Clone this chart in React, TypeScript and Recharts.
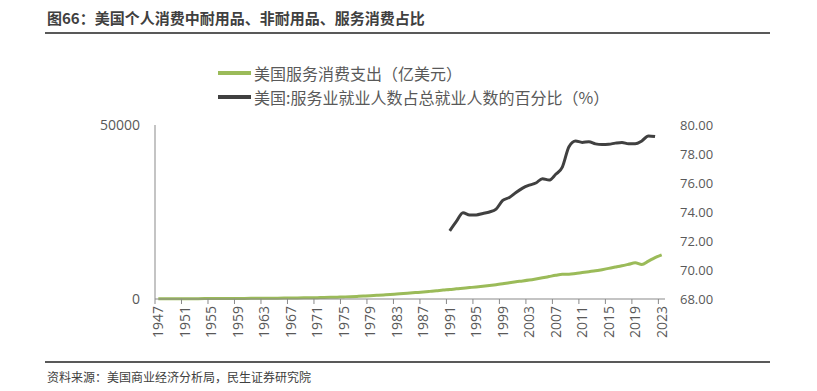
import { Line, LineChart, XAxis, YAxis } from "recharts";

// categories: 1947 .. 2023
const years: number[] = Array.from({ length: 2023 - 1947 + 1 }, (_, i) => 1947 + i);

// 美国服务消费支出（亿美元）
const servicesSpend = [
  67, 73, 77, 83, 90, 97, 105, 112, 120, 129,
  139, 148, 161, 172, 182, 195, 207, 223, 240, 258,
  277, 301, 330, 360, 394, 434, 477, 531, 596, 665,
  748, 838, 933, 1053, 1177, 1300, 1445, 1580, 1732, 1868,
  2013, 2190, 2370, 2570, 2720, 2930, 3100, 3280, 3460, 3660,
  3880, 4120, 4380, 4700, 4970, 5190, 5440, 5750, 6090, 6450,
  6810, 7100, 7120, 7340, 7610, 7860, 8090, 8430, 8800, 9170,
  9550, 9970, 10400, 9900, 10900, 11900, 12700,
];

// 美国:服务业就业人数占总就业人数的百分比（%），1991 - 2022
const serviceEmpShareFrom1991 = [
  72.7, 73.35, 73.95, 73.8, 73.8, 73.9, 74.0, 74.2, 74.8, 75.0,
  75.35, 75.65, 75.85, 76.0, 76.3, 76.2, 76.6, 77.1, 78.5, 78.9,
  78.8, 78.85, 78.7, 78.65, 78.67, 78.75, 78.8, 78.7, 78.7, 78.9,
  79.25, 79.2,
];

const xLabelYears = [
  1947, 1951, 1955, 1959, 1963, 1967, 1971, 1975, 1979, 1983,
  1987, 1991, 1995, 1999, 2003, 2007, 2011, 2015, 2019, 2023,
];
const leftTicks = [0, 50000];
const rightTicks = [68, 70, 72, 74, 76, 78, 80];

const data = years.map((year, i) => ({
  year,
  services: servicesSpend[i],
  share: year >= 1991 && year - 1991 < serviceEmpShareFrom1991.length
    ? serviceEmpShareFrom1991[year - 1991]
    : null,
}));

const W = 817;
const H = 391;
const PLOT_LEFT = 155;
const PLOT_RIGHT = 665;
const HALF_BAND = (PLOT_RIGHT - PLOT_LEFT) / years.length / 2;

const GREEN = "#9bbb59";
const DARK = "#404040";
const AXIS = "#898989";
const LABEL = "#595959";
const CJK = '"Noto Sans CJK SC", "Noto Sans", sans-serif';
const NUM = '"Open Sans", "Noto Sans", sans-serif';

// tick lines sit on category boundaries, labels on category centres
function YearTick(props: any) {
  const { x, y, payload } = props;
  const year = payload.value + 0.5;
  if (year > 2023) return null;
  return (
    <g transform={`translate(${x + HALF_BAND},${y})`}>
      <text
        x={0}
        y={0}
        dy="0.35em"
        textAnchor="end"
        transform="rotate(-90)"
        fill={LABEL}
        fontSize={14}
        fontFamily={NUM}
      >
        {year}
      </text>
    </g>
  );
}

export default function App() {
  return (
    <div
      style={{
        position: "absolute",
        left: 0,
        top: 0,
        width: W,
        height: H,
        background: "#fff",
        fontFamily: CJK,
      }}
    >
      <div
        style={{
          position: "absolute",
          left: 47,
          top: 7,
          fontSize: 15,
          fontWeight: 700,
          color: "#404040",
          lineHeight: "22px",
        }}
      >
        图66：美国个人消费中耐用品、非耐用品、服务消费占比
      </div>
      <div style={{ position: "absolute", left: 45, top: 32, width: 725, height: 2, background: "#595959" }} />

      {/* legend */}
      {[
        { color: GREEN, label: "美国服务消费支出（亿美元）", top: 62 },
        { color: DARK, label: "美国:服务业就业人数占总就业人数的百分比（%）", top: 86 },
      ].map((item) => (
        <div
          key={item.label}
          style={{
            position: "absolute",
            left: 218,
            top: item.top,
            height: 22,
            display: "flex",
            alignItems: "center",
            fontSize: 16,
            color: LABEL,
            whiteSpace: "nowrap",
          }}
        >
          <span style={{ display: "inline-block", width: 33, height: 4, background: item.color, marginRight: 3 }} />
          {item.label}
        </div>
      ))}

      <div style={{ position: "absolute", left: 0, top: 0 }}>
        <LineChart
          width={W}
          height={H}
          data={data}
          margin={{ top: 125, right: 0, bottom: 52, left: 0 }}
        >
          <XAxis
            dataKey="year"
            type="number"
            domain={[1946.5, 2023.5]}
            ticks={xLabelYears.map((y) => y - 0.5)}
            interval={0}
            height={40}
            axisLine={{ stroke: AXIS }}
            tickLine={{ stroke: AXIS }}
            tickSize={5}
            tickMargin={2}
            tick={<YearTick />}
          />
          <YAxis
            yAxisId="left"
            domain={[0, 50000]}
            ticks={leftTicks}
            width={PLOT_LEFT}
            axisLine={{ stroke: AXIS }}
            tickLine={false}
            tickSize={0}
            tickMargin={15}
            tick={{ fill: LABEL, fontSize: 14, fontFamily: NUM }}
          />
          <YAxis
            yAxisId="right"
            orientation="right"
            domain={[68, 80]}
            ticks={rightTicks}
            width={W - PLOT_RIGHT}
            axisLine={false}
            tickLine={false}
            tickSize={0}
            tickMargin={15}
            tickFormatter={(v: number) => v.toFixed(2)}
            tick={{ fill: LABEL, fontSize: 13, fontFamily: NUM }}
          />
          <Line
            yAxisId="left"
            type="monotone"
            dataKey="services"
            stroke={GREEN}
            strokeWidth={3}
            dot={false}
            isAnimationActive={false}
          />
          <Line
            yAxisId="right"
            type="monotone"
            dataKey="share"
            stroke={DARK}
            strokeWidth={3}
            dot={false}
            connectNulls={false}
            isAnimationActive={false}
          />
        </LineChart>
      </div>

      <div style={{ position: "absolute", left: 45, top: 361, width: 725, height: 2, background: "#595959" }} />
      <div
        style={{
          position: "absolute",
          left: 47,
          top: 367,
          fontSize: 12,
          color: "#404040",
          lineHeight: "20px",
        }}
      >
        资料来源：美国商业经济分析局，民生证券研究院
      </div>
    </div>
  );
}
